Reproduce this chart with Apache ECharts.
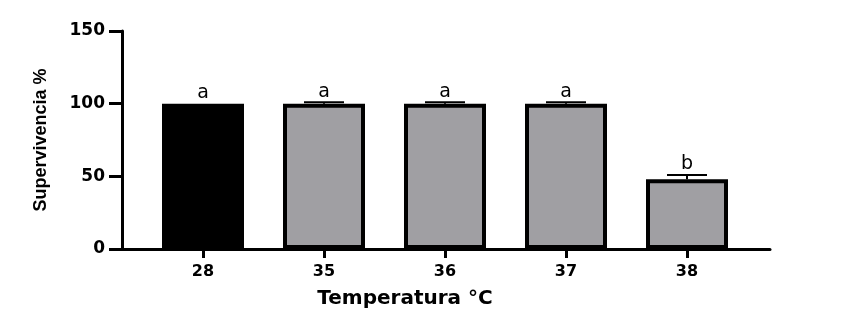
<!DOCTYPE html>
<html>
<head>
<meta charset="utf-8">
<script src="https://cdn.jsdelivr.net/npm/echarts@6/dist/echarts.min.js"></script>
<style>html,body{margin:0;padding:0;background:#fff}#c{width:844px;height:325px}</style>
</head>
<body>
<div id="c"></div>
<script>
const categories = ['28', '35', '36', '37', '38'];
const survival = [100, 100, 100, 100, 48];
const errors = [0, 1, 1, 1, 3];
const letters = ['a', 'a', 'a', 'a', 'b'];
const yMin = 0, yMax = 150, yStep = 50;

const chart = echarts.init(document.getElementById('c'), null, {renderer: 'canvas'});
const boldFont = '"DejaVu Sans", "Liberation Sans", sans-serif';

const option = {
  animation: false,
  backgroundColor: '#fff',
  grid: [
    {left: 122, right: 74, top: 31, bottom: 76},
    {left: 142.5, right: 96.5, top: 31, bottom: 76}
  ],
  xAxis: [
    {
      type: 'value', gridIndex: 0, min: 0, max: 1,
      axisLine: {show: true, onZero: false, lineStyle: {color: '#000', width: 3}},
      axisTick: {show: false}, axisLabel: {show: false}, splitLine: {show: false},
      name: 'Temperatura °C', nameLocation: 'middle', nameGap: 40,
      nameTextStyle: {fontFamily: boldFont, fontWeight: 'bold', fontSize: 20, color: '#000', padding: [0, 82, 0, 0]}
    },
    {
      type: 'category', gridIndex: 1, data: categories,
      axisLine: {show: false},
      axisTick: {show: true, alignWithLabel: true, length: 9, lineStyle: {color: '#000', width: 3}},
      axisLabel: {margin: 15, fontFamily: boldFont, fontWeight: 'bold', fontSize: 16, color: '#000'},
      splitLine: {show: false}
    }
  ],
  yAxis: [
    {
      type: 'value', gridIndex: 0, min: yMin, max: yMax, interval: yStep,
      axisLine: {show: true, lineStyle: {color: '#000', width: 3}},
      axisTick: {show: true, length: 13, lineStyle: {color: '#000', width: 3}},
      axisLabel: {margin: 17, fontFamily: boldFont, fontWeight: 'bold', fontSize: 17, color: '#000'},
      splitLine: {show: false},
      name: 'Supervivencia %', nameLocation: 'middle', nameGap: 72, nameRotate: 90,
      nameTextStyle: {fontFamily: '"Liberation Sans", Arial, sans-serif', fontWeight: 'bold', fontSize: 18, color: '#000'}
    },
    {
      type: 'value', gridIndex: 1, min: yMin, max: yMax, interval: yStep, show: false
    }
  ],
  series: [
    {
      type: 'bar', xAxisIndex: 1, yAxisIndex: 1, barWidth: 82,
      data: survival.map((v, i) => ({
        value: v,
        itemStyle: {color: i === 0 ? '#000000' : '#a09fa3', borderColor: '#000', borderWidth: 4}
      }))
    },
    {
      type: 'custom', xAxisIndex: 1, yAxisIndex: 1, z: 5,
      data: survival.map((v, i) => [i, v, errors[i], letters[i]]),
      renderItem: function (params, api) {
        const i = api.value(0), v = api.value(1), e = api.value(2);
        const top = api.coord([i, v + e]);
        const base = api.coord([i, v]);
        const half = 20;
        const children = [];
        if (e > 0) {
          children.push({type: 'line', shape: {x1: top[0], y1: top[1], x2: top[0], y2: base[1]}, style: {stroke: '#000', lineWidth: 2}});
          children.push({type: 'line', shape: {x1: top[0] - half, y1: top[1], x2: top[0] + half, y2: top[1]}, style: {stroke: '#000', lineWidth: 2}});
        }
        children.push({type: 'text', style: {text: letters[params.dataIndex], x: top[0], y: top[1] - 1, align: 'center', verticalAlign: 'bottom', fontFamily: '"DejaVu Sans", sans-serif', fontSize: 19, fill: '#000'}});
        return {type: 'group', children: children};
      }
    }
  ]
};
chart.setOption(option);
</script>
</body>
</html>
